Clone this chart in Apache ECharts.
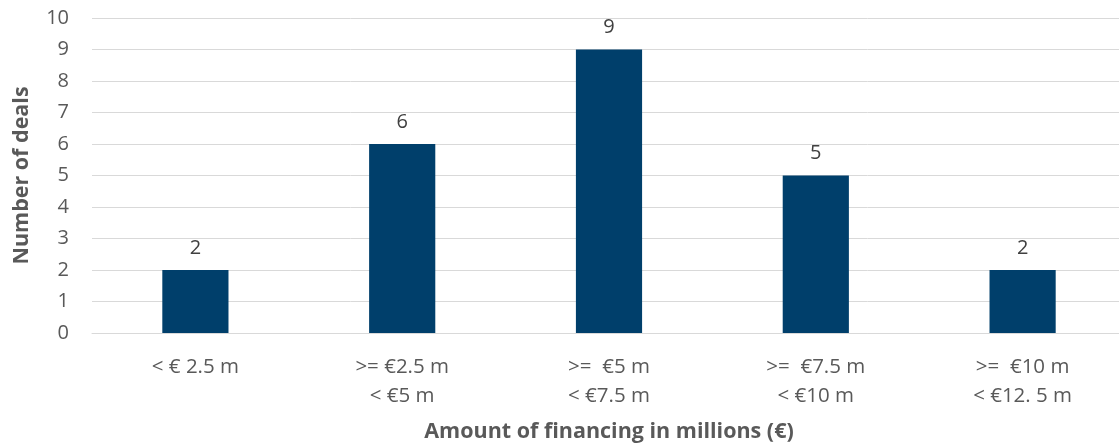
<!DOCTYPE html>
<html>
<head>
<meta charset="utf-8">
<script src="https://cdn.jsdelivr.net/npm/echarts@6/dist/echarts.min.js"></script>
<style>
  html, body { margin: 0; padding: 0; background: #ffffff; overflow: hidden; }
  /* the plot runs a few pixels past the right edge of the page */
  #chart { width: 1126px; height: 448px; }
</style>
</head>
<body>
<div id="chart"></div>
<script>
// Deal count by financing bracket
const categories = [
  '< € 2.5 m',
  '>= €2.5 m\n< €5 m',
  '>=  €5 m\n< €7.5 m',
  '>=  €7.5 m\n< €10 m',
  '>=  €10 m\n< €12. 5 m'
];
const deals = [2, 6, 9, 5, 2];
const yTicks = { min: 0, max: 10, interval: 1 };

const FONT = '"Open Sans", Lato, sans-serif';

const chart = echarts.init(document.getElementById('chart'), null, { renderer: 'canvas' });
chart.setOption({
  animation: false,
  backgroundColor: '#ffffff',
  grid: { left: 92, right: 0, top: 18, bottom: 112, containLabel: false },
  xAxis: {
    type: 'category',
    data: categories,
    name: 'Amount of financing in millions (€)',
    nameLocation: 'middle',
    nameGap: 88,
    nameTextStyle: { fontFamily: FONT, fontSize: 21.5, fontWeight: 'bold', color: '#595959' },
    axisLine: { show: true, lineStyle: { color: '#d9d9d9', width: 1 } },
    axisTick: { show: false },
    axisLabel: {
      fontFamily: FONT, fontSize: 20.5, color: '#595959',
      margin: 20, lineHeight: 29, interval: 0
    }
  },
  yAxis: {
    type: 'value',
    min: yTicks.min, max: yTicks.max, interval: yTicks.interval,
    name: 'Number of deals',
    nameLocation: 'middle',
    nameGap: 59,
    nameTextStyle: { fontFamily: FONT, fontSize: 21.5, fontWeight: 'bold', color: '#595959' },
    axisLine: { show: false },
    axisTick: { show: false },
    axisLabel: { fontFamily: FONT, fontSize: 20, color: '#595959', margin: 23 },
    splitLine: { show: true, lineStyle: { color: '#d9d9d9', width: 1 } }
  },
  series: [{
    type: 'bar',
    data: deals,
    barWidth: '32%',
    itemStyle: { color: '#003f6b' },
    label: {
      show: true, position: 'top', distance: 12,
      fontFamily: FONT, fontSize: 20, color: '#404040'
    }
  }]
});
</script>
</body>
</html>
